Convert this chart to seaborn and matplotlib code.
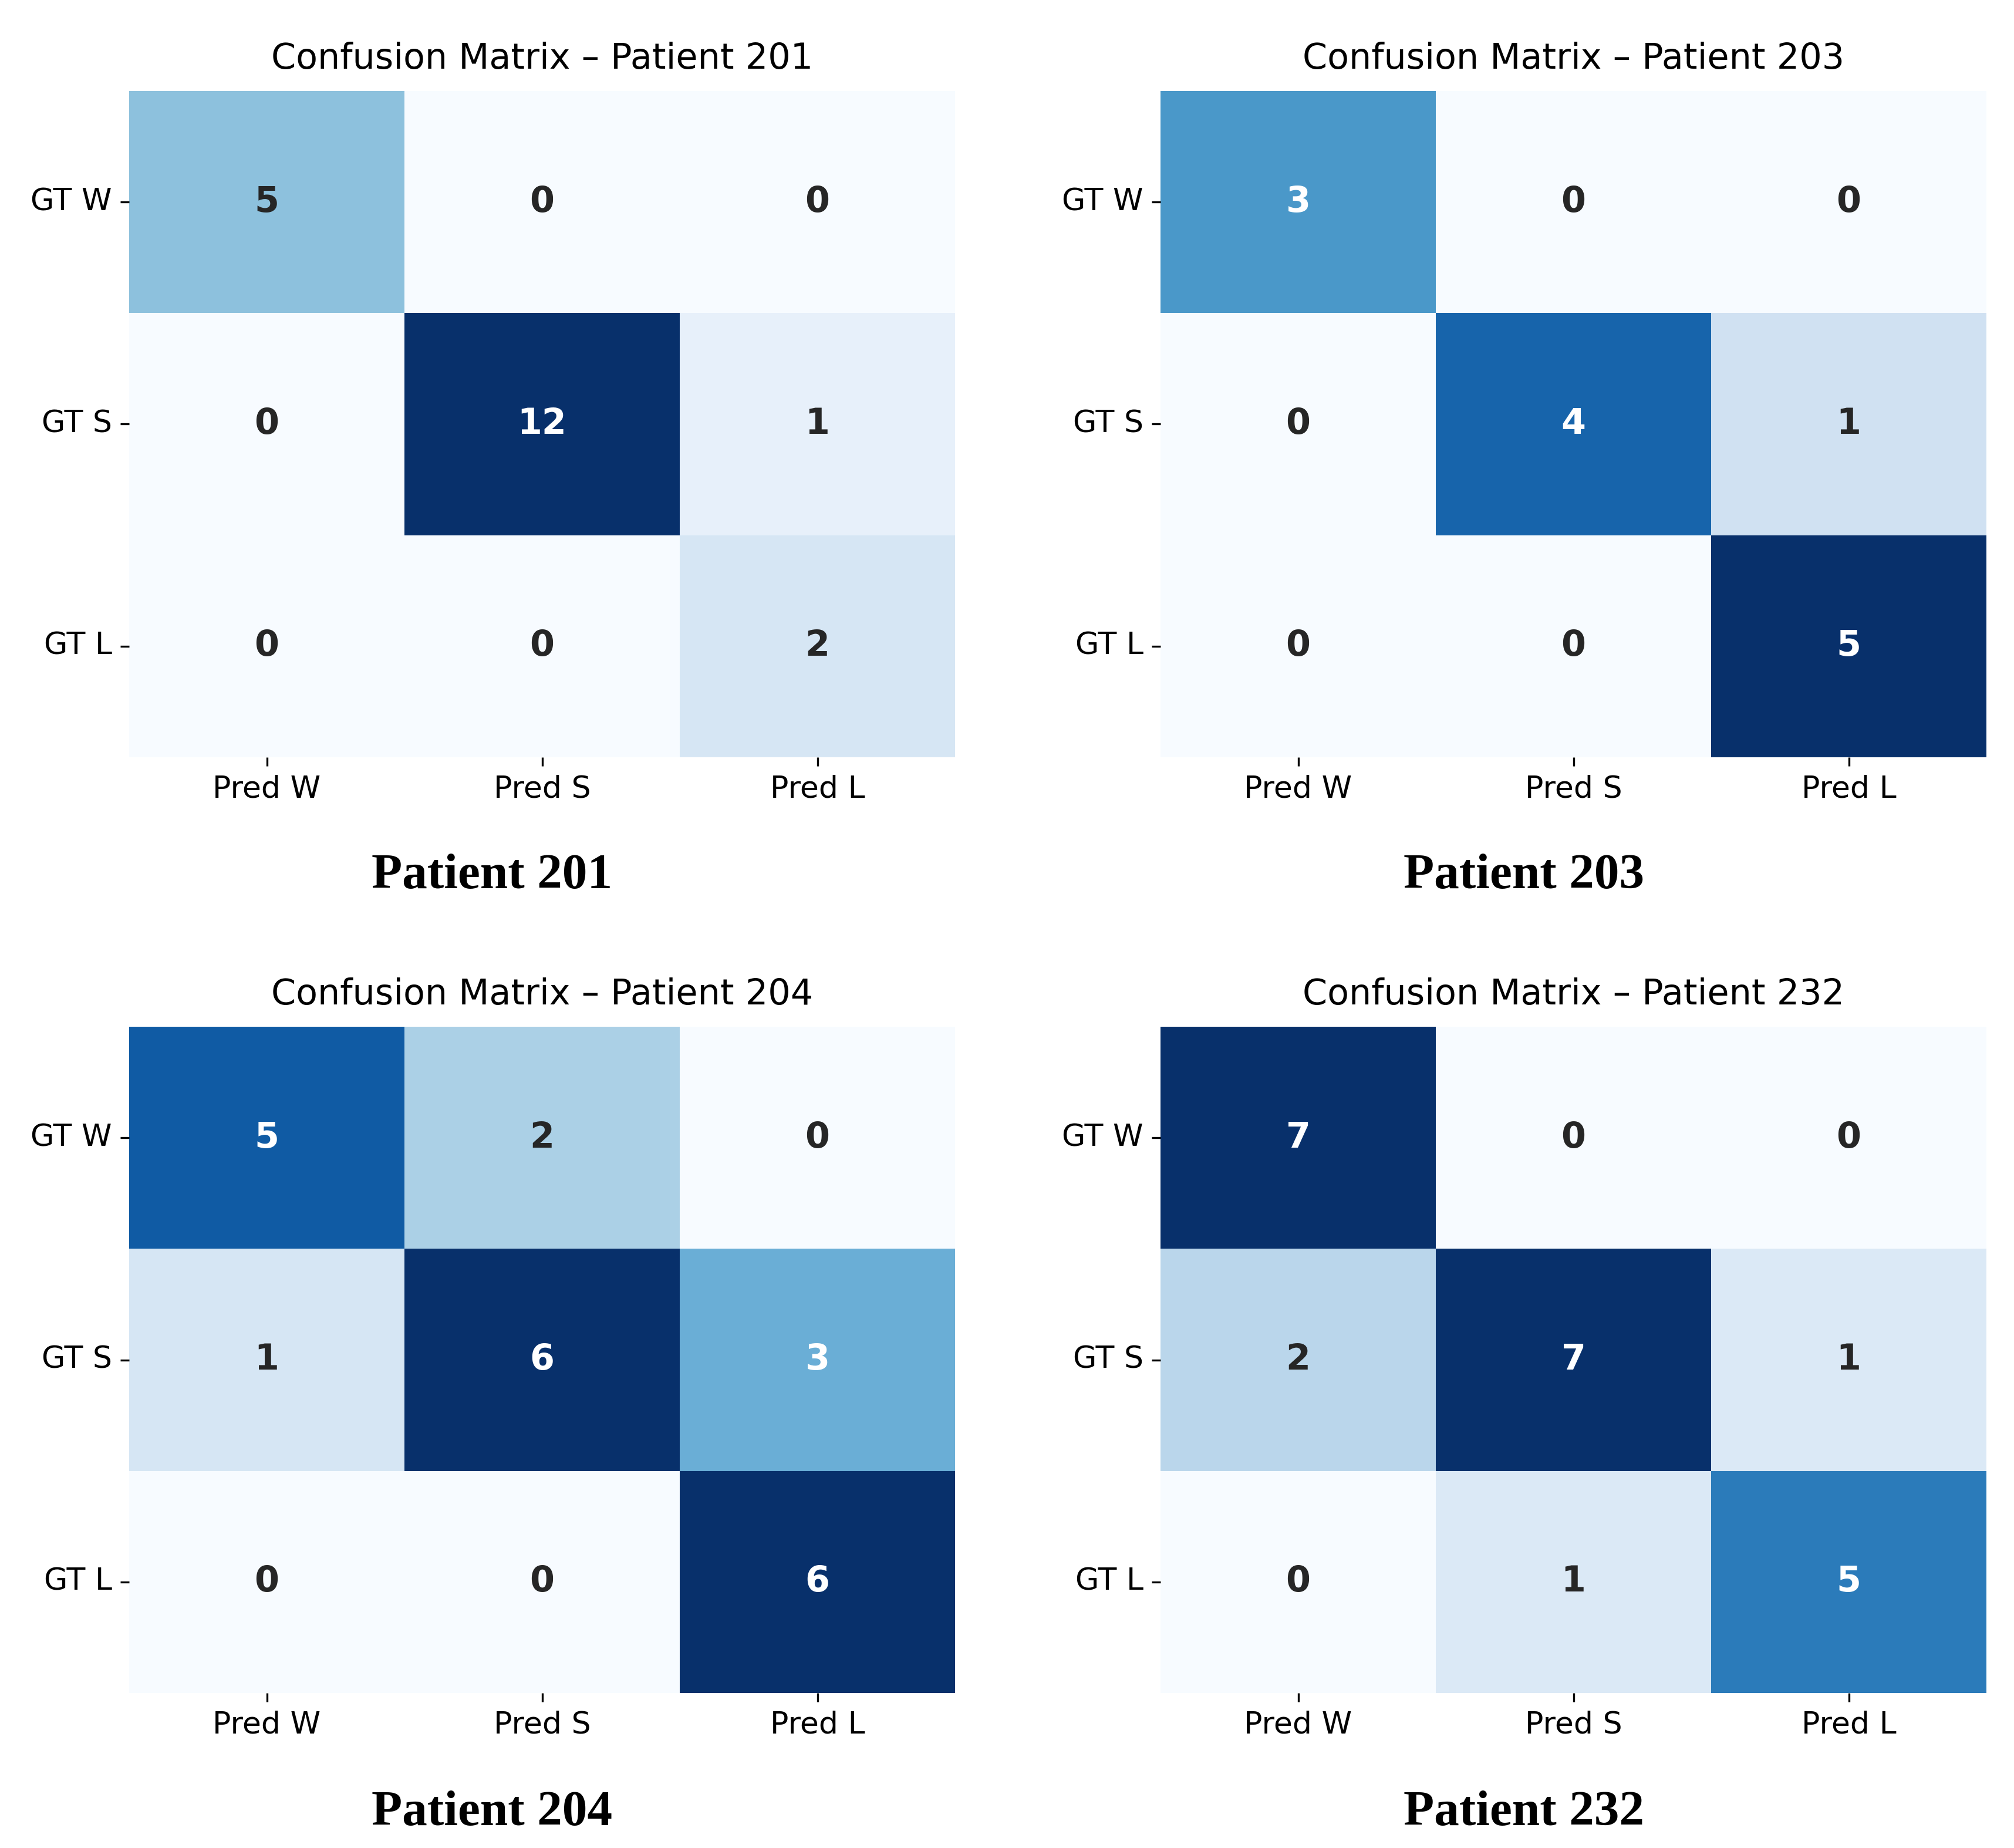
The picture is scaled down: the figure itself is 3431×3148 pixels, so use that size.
import numpy as np
import pandas as pd
import seaborn as sns
import matplotlib.pyplot as plt

patients = ["201", "203", "204", "232"]
gt_labels = ["GT W", "GT S", "GT L"]
pred_labels = ["Pred W", "Pred S", "Pred L"]

cm_201 = [[5, 0, 0], [0, 12, 1], [0, 0, 2]]
cm_203 = [[3, 0, 0], [0, 4, 1], [0, 0, 5]]
cm_204 = [[5, 2, 0], [1, 6, 3], [0, 0, 6]]
cm_232 = [[7, 0, 0], [2, 7, 1], [0, 1, 5]]
matrices = [cm_201, cm_203, cm_204, cm_232]

W, H = 3431, 3148
fig = plt.figure(figsize=(W / 300, H / 300), dpi=300)

ax_w, ax_h = 1407 / W, 1135 / H
lefts = [220 / W, 1977 / W]
bottoms = [1 - 1290 / H, 1 - 2884 / H]
caption_x = [838 / W, 2596 / W]
caption_y = [1 - 1513 / H, 1 - 3109 / H]

for i, (pid, cm) in enumerate(zip(patients, matrices)):
    r, c = divmod(i, 2)
    ax = fig.add_axes([lefts[c], bottoms[r], ax_w, ax_h])
    df = pd.DataFrame(cm, index=gt_labels, columns=pred_labels)
    sns.heatmap(df, ax=ax, cmap="Blues", annot=True, fmt="d", cbar=False,
                annot_kws={"fontsize": 14.5, "fontweight": "bold"})
    ax.set_title(f"Confusion Matrix \u2013 Patient {pid}", fontsize=14.5, pad=9)
    ax.tick_params(axis="both", labelsize=12.5)
    ax.set_yticklabels(gt_labels, rotation=0)
    ax.set_xticklabels(pred_labels, rotation=0)
    fig.text(caption_x[c], caption_y[r], f"Patient {pid}",
             family="Liberation Serif", fontweight="bold", fontsize=20.5,
             ha="center", va="baseline")

fig.savefig("out.png", dpi=300)
